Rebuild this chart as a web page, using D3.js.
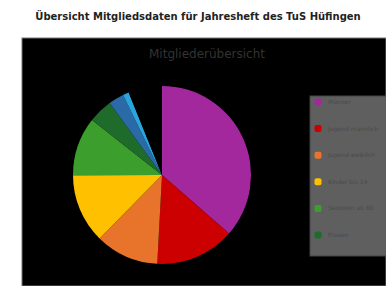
<!DOCTYPE html>
<html>
<head>
<meta charset="utf-8">
<script src="https://cdn.jsdelivr.net/npm/d3@7"></script>
<style>
  body { margin: 0; background: #fff; }
  svg { display: block; }
</style>
</head>
<body>
<div id="chart"></div>
<script>
// Member groups and their share
const groups = ["Männer", "Jugend männlich", "Jugend weiblich", "Kinder bis 14", "Senioren ab 60", "Frauen", "Ehrenmitglieder", "Passive", "Sonstige"];
const members = [364, 144, 115, 126, 106, 44, 28, 11, 61];
const colors = ["#a3289e", "#cc0000", "#e8742c", "#ffc000", "#3c9e2c", "#1e6b2c", "#2a6aa6", "#2aa4dc", "#000000"];

const width = 386, height = 286;

const svg = d3.select("#chart")
    .append("svg")
    .attr("width", width)
    .attr("height", height);

// Page title
svg.append("text")
    .attr("x", 198)
    .attr("y", 20)
    .attr("text-anchor", "middle")
    .style("font-family", "DejaVu Sans")
    .style("font-size", "10px")
    .style("font-weight", "bold")
    .style("fill", "#222")
    .text("Übersicht Mitgliedsdaten für Jahresheft des TuS Hüfingen");

// Black chart area
svg.append("rect")
    .attr("x", 22)
    .attr("y", 38)
    .attr("width", width - 22)
    .attr("height", height - 38)
    .attr("fill", "#000")
    .attr("stroke", "#777")
    .attr("stroke-width", 1);

// Chart title
svg.append("text")
    .attr("x", 207)
    .attr("y", 58)
    .attr("text-anchor", "middle")
    .style("font-family", "DejaVu Sans")
    .style("font-size", "12px")
    .style("fill", "#333")
    .text("Mitgliederübersicht");

// Pie
const pie = d3.pie().sort(null).value(d => d);
const arc = d3.arc().innerRadius(0).outerRadius(89);

const g = svg.append("g")
    .attr("transform", "translate(162,175)");

g.selectAll("path")
    .data(pie(members))
    .enter()
    .append("path")
    .attr("d", arc)
    .attr("fill", (d, i) => colors[i]);

// Legend
const legend = svg.append("g");
legend.append("rect")
    .attr("x", 310)
    .attr("y", 96)
    .attr("width", 90)
    .attr("height", 160)
    .attr("fill", "#5f5f5f")
    .attr("stroke", "#444");

const item = legend.selectAll(".item")
    .data(groups.slice(0, 6))
    .enter()
    .append("g")
    .attr("class", "item")
    .attr("transform", (d, i) => `translate(318,${102 + i * 26.6})`);

item.append("rect")
    .attr("x", -3.5)
    .attr("y", -3.5)
    .attr("width", 7)
    .attr("height", 7)
    .attr("rx", 2)
    .attr("fill", (d, i) => colors[i]);

item.append("text")
    .attr("x", 10)
    .attr("y", 2)
    .style("font-family", "DejaVu Sans")
    .style("font-size", "6px")
    .style("fill", "#4a4a4a")
    .text(d => d);
</script>
</body>
</html>
